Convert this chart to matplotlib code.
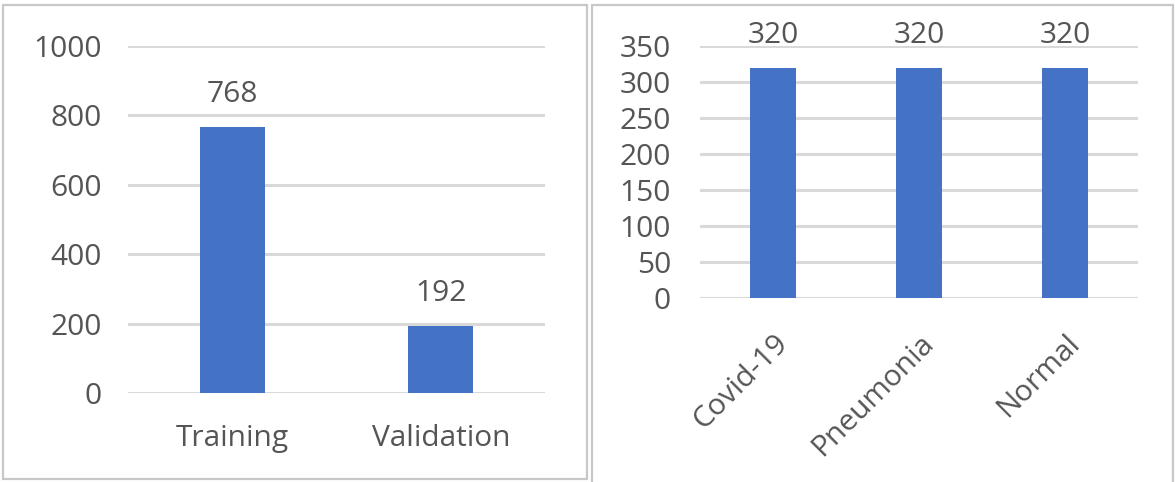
import matplotlib
matplotlib.use("Agg")
import matplotlib.pyplot as plt
from matplotlib.patches import Rectangle

# split sizes
split_names = ["Training", "Validation"]
split_counts = [768, 192]
split_ticks = [0, 200, 400, 600, 800, 1000]

# images per class
class_names = ["Covid-19", "Pneumonia", "Normal"]
class_counts = [320, 320, 320]
class_ticks = [0, 50, 100, 150, 200, 250, 300, 350]

BAR = "#4472C4"
GRID = "#D9D9D9"
TXT = "#555555"
FS = 21.5

plt.rcParams["font.family"] = ["Open Sans", "DejaVu Sans"]

W, H = 1175, 482
fig = plt.figure(figsize=(W / 100, H / 100), dpi=100)


def px_axes(x0, x1, y_top, y_bot):
    # axes placed by pixel box (y measured from the top)
    return fig.add_axes([x0 / W, (H - y_bot) / H, (x1 - x0) / W, (y_bot - y_top) / H])


def style(ax, ticks, ypad):
    ax.set_ylim(ticks[0], ticks[-1])
    ax.set_yticks(ticks)
    for s in ax.spines.values():
        s.set_visible(False)
    ax.yaxis.grid(True, color=GRID, lw=2.2)
    ax.set_axisbelow(True)
    ax.tick_params(axis="both", length=0, labelsize=FS, labelcolor=TXT)
    ax.tick_params(axis="y", pad=ypad)


def bar_labels(ax, xs, vals):
    for x, v in zip(xs, vals):
        ax.annotate(str(v), (x, v), xytext=(0, 18), textcoords="offset points",
                    ha="center", va="baseline", fontsize=FS, color=TXT)


# panel frames
fig.add_artist(Rectangle((3 / W, (H - 479) / H), 584 / W, 474 / H, transform=fig.transFigure,
                         fill=False, ec="#C8C8C8", lw=1.6))
fig.add_artist(Rectangle((592 / W, -0.01), 581 / W, (H - 5) / H + 0.01, transform=fig.transFigure,
                         fill=False, ec="#C8C8C8", lw=1.6))

# left: training / validation split
ax1 = px_axes(128, 545, 46, 393)
x1 = list(range(len(split_names)))
ax1.bar(x1, split_counts, width=0.31, color=BAR)
ax1.set_xlim(-0.5, len(split_names) - 0.5)
style(ax1, split_ticks, 19)
ax1.set_xticks(x1)
ax1.set_xticklabels(split_names)
ax1.tick_params(axis="x", pad=22)
bar_labels(ax1, x1, split_counts)

# right: class balance
ax2 = px_axes(700, 1138, 46, 298)
x2 = list(range(len(class_names)))
ax2.bar(x2, class_counts, width=0.32, color=BAR)
ax2.set_xlim(-0.5, len(class_names) - 0.5)
style(ax2, class_ticks, 21)
ax2.set_xticks(x2)
ax2.set_xticklabels(class_names, rotation=45, ha="right", va="top", rotation_mode="anchor")
ax2.tick_params(axis="x", pad=22)
bar_labels(ax2, x2, class_counts)

fig.savefig("out.png", dpi=100, facecolor="white")
